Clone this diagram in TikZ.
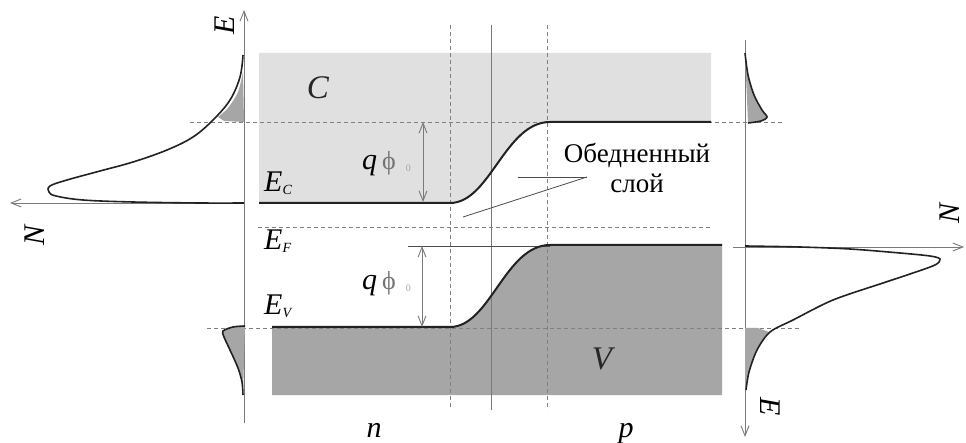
\documentclass[tikz,border=0pt]{standalone}
\usepackage{fontspec}
\setmainfont{Liberation Serif}
\usetikzlibrary{arrows.meta}
\definecolor{cband}{HTML}{E0E0E0}
\definecolor{vband}{HTML}{A6A6A6}
\definecolor{axisgray}{HTML}{7A7A7A}
\definecolor{ink}{HTML}{222222}
\newcommand{\subl}[1]{\raisebox{-3pt}{\fontsize{14}{14}\selectfont\itshape #1}}
\newcommand{\qphi}{\textit{q}\hspace{5pt}{\color{black!55}\fontsize{26}{26}\selectfont\upshape ϕ}\hspace{10pt}\raisebox{-2pt}{\color{black!35}\fontsize{10}{10}\selectfont\upshape 0}}
\begin{document}
\begin{tikzpicture}[x=1pt,y=-1pt,
  axisline/.style={draw=axisgray, line width=0.9pt},
  arr/.style={-{Straight Barb[length=10pt,width=8pt]}},
  darr/.style={{Straight Barb[length=10pt,width=8pt]}-{Straight Barb[length=10pt,width=8pt]}},
  bandedge/.style={draw=ink, line width=2pt},
  lvl/.style={draw=gray, line width=0.9pt, dash pattern=on 4pt off 3pt},
  dosline/.style={draw=ink, line width=1.6pt},
  lbl/.style={font=\fontsize{30}{32}\selectfont\itshape, inner sep=0pt},
  big/.style={font=\fontsize{33}{33}\selectfont\itshape, text=black!85, inner sep=0pt},
  leader/.style={draw=black!70, line width=0.8pt}]
\useasboundingbox (0,0) rectangle (966,443);

% band fills
\fill[cband] (259,53) -- (711,53) -- (711,122) -- (550,122)
  .. controls (505,122) and (490,203) .. (450,203) -- (259,203) -- cycle;
\fill[vband] (272,327) -- (450,327) .. controls (490,327) and (505,245) .. (550,245)
  -- (722,245) -- (722,395) -- (272,395) -- cycle;

% guide lines
\draw[lvl] (450,25) -- (450,410);
\draw[lvl] (547,25) -- (547,410);
\draw[draw=axisgray, line width=0.9pt] (491,25) -- (491,410);
\draw[lvl] (190,122) -- (785,122);
\draw[lvl] (207,328) -- (800,328);
\draw[lvl] (258,227) -- (712,227);
\draw[draw=black!70, line width=0.7pt] (408,246) -- (550,246);

% band edges
\draw[bandedge] (259,203) -- (450,203) .. controls (490,203) and (505,122) .. (550,122) -- (711,122);
\draw[bandedge] (272,327) -- (450,327) .. controls (490,327) and (505,245) .. (550,245) -- (722,245);

% axes
\draw[axisline, arr] (244,423) -- (244,10);
\draw[axisline, arr] (245,203) -- (10,203);
\draw[axisline, arr] (745,40) -- (745,437);
\draw[axisline, arr] (733,247) -- (964,247);

% left DOS
\fill[vband] plot[smooth] coordinates {(243,72) (238,92) (228,108) (218,117)} -- (224,121) -- (244,122) -- cycle;
\draw[dosline] plot[smooth, tension=0.6] coordinates {(243,55) (240,77) (230,100) (213,120) (193,137) (167,150) (133,162) (100,171) (67,180) (50,186) (49,192) (56,196) (83,200) (133,202) (200,203) (244,203)};
\fill[vband] plot[smooth] coordinates {(245,326) (233,327) (223,331) (224,337) (230,350) (238,368) (242,382) (243,395)} -- cycle;
\draw[dosline] plot[smooth] coordinates {(245,326) (233,327) (223,331) (224,337) (230,350) (238,368) (242,382) (243,395)};

% right DOS
\fill[vband] plot[smooth] coordinates {(745,53) (748,75) (754,95) (762,110) (767,117) (761,121) (748,123)} -- cycle;
\draw[dosline] plot[smooth] coordinates {(745,53) (748,75) (754,95) (762,110) (767,117) (761,121) (748,123)};
\fill[vband] (745,328) -- (758,328) -- plot[smooth] coordinates {(769,332) (757,350) (749,372) (746,390)} -- (745,390) -- cycle;
\draw[dosline] plot[smooth] coordinates {(745,246) (800,247) (850,249) (900,253) (930,256) (940,259) (935,265) (910,274) (883,283) (833,300) (793,320) (770,332) (757,350) (749,372) (746,390)};

% potential arrows
\draw[axisline, darr] (423,122) -- (423,202);
\draw[axisline, darr] (422,246) -- (422,327);

% labels
\node[lbl, rotate=90] (Eleft) at (225,25) {E};
\node[lbl, rotate=90] (Nleft) at (35,235) {N};
\node[lbl, rotate=90] (Nright) at (950,213) {N};
\node[lbl, rotate=-90] (Eright) at (770,407) {E};
\node[lbl, anchor=base west] (Ec) at (264,192) {E\subl{C}};
\node[lbl, anchor=base west] (Ef) at (264,250) {E\subl{F}};
\node[lbl, anchor=base west] (Ev) at (264,315) {E\subl{V}};
\node[big] (Cl) at (318,88) {C};
\node[big] (Vl) at (602,359) {V};
\node[lbl, anchor=base west] (q1) at (362,170) {\qphi};
\node[lbl, anchor=base west] (q2) at (362,290) {\qphi};
\node[lbl, anchor=base] (nl) at (374,437) {n};
\node[lbl, anchor=base] (pl) at (626,437) {p};
\node[font=\fontsize{27}{30}\selectfont, align=center, inner sep=0pt] (dep) at (637,168) {Обедненный\\слой};
\coordinate (lp) at (587,177);
\draw[leader] (lp) -- (518,177);
\draw[leader] (lp) -- (463,217);
\end{tikzpicture}
\end{document}
